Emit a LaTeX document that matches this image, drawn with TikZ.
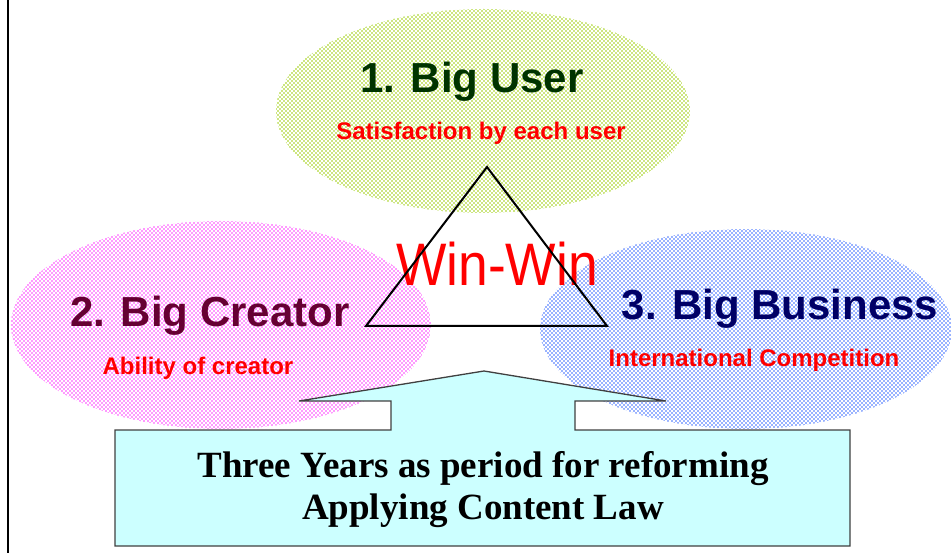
\documentclass[tikz,border=0pt]{standalone}
\usepackage{fontspec}
\setmainfont{Liberation Serif}
\setsansfont{Liberation Sans}
\usetikzlibrary{shapes.geometric, patterns, positioning}
\definecolor{userdots}{RGB}{153, 204, 0}
\definecolor{creatordots}{RGB}{255, 51, 255}
\definecolor{businessdots}{RGB}{51, 102, 255}
\definecolor{userdark}{RGB}{0, 51, 0}
\definecolor{creatordark}{RGB}{102, 0, 51}
\definecolor{businessdark}{RGB}{0, 0, 102}
\definecolor{callcyan}{RGB}{204, 255, 255}
\definecolor{callgray}{RGB}{64, 64, 64}
\pgfdeclarepatternformonly{ovaldots}{\pgfqpoint{-1pt}{-1pt}}{\pgfqpoint{3pt}{3pt}}{\pgfqpoint{4pt}{4pt}}{%
    \pgfpathcircle{\pgfqpoint{0pt}{0pt}}{0.9pt}%
    \pgfpathcircle{\pgfqpoint{2pt}{2pt}}{0.9pt}%
    \pgfusepath{fill}}

\begin{document}
\begin{tikzpicture}[
        x=1pt, y=-1pt,
        oval/.style={ellipse, inner sep=0pt, pattern=ovaldots},
        title/.style={anchor=base, font=\sffamily\bfseries\fontsize{42}{48}\selectfont},
        subtitle/.style={anchor=base, text=red, font=\sffamily\bfseries\fontsize{24}{28}\selectfont},
        callout/.style={fill=callcyan, draw=callgray, line width=1.3pt, line join=miter}
    ]
        \useasboundingbox (0,0) rectangle (951,553);
        \draw[line width=2pt] (8,0) -- (8,553);

        % the three ovals
        \node[oval, pattern color=userdots, minimum width=414pt, minimum height=204pt] (user) at (483,111) {};
        \node[oval, pattern color=creatordots, minimum width=420pt, minimum height=208pt] (creator) at (221,325) {};
        \node[oval, pattern color=businessdots, minimum width=412pt, minimum height=200pt] (business) at (746,329) {};

        \node[title, text=userdark] (usertitle) at (472,93) {1. Big User};
        \node[subtitle] (usersub) at (481,140) {Satisfaction by each user};
        \node[title, text=creatordark] (creatortitle) at (210,327) {2. Big Creator};
        \node[subtitle] (creatorsub) at (198,375) {Ability of creator};
        \node[title, text=businessdark] (businesstitle) at (780,320) {3. Big Business};
        \node[subtitle] (businesssub) at (754,367) {International Competition};

        % win-win triangle
        \node[anchor=base, text=red, font=\sffamily\fontsize{60}{64}\selectfont] (win) at (497,286)
            {\scalebox{0.89}[1]{Win-Win}};
        \coordinate (apex) at (487,167);
        \coordinate (baseL) at (366,326);
        \coordinate (baseR) at (607,326);
        \draw[line width=2pt, line join=miter] (apex) -- (baseL) -- (baseR) -- cycle;

        % up-arrow callout
        \draw[callout] (115,430) -- (391,430) -- (391,401) -- (299,401) -- (484,371)
            -- (666,401) -- (575,401) -- (575,430) -- (850,430) -- (850,546) -- (115,546) -- cycle;
        \node[align=center, font=\bfseries\fontsize{37}{42}\selectfont] (reform) at (483,490)
            {Three Years as period for reforming\\Applying Content Law};
    \end{tikzpicture}
\end{document}
